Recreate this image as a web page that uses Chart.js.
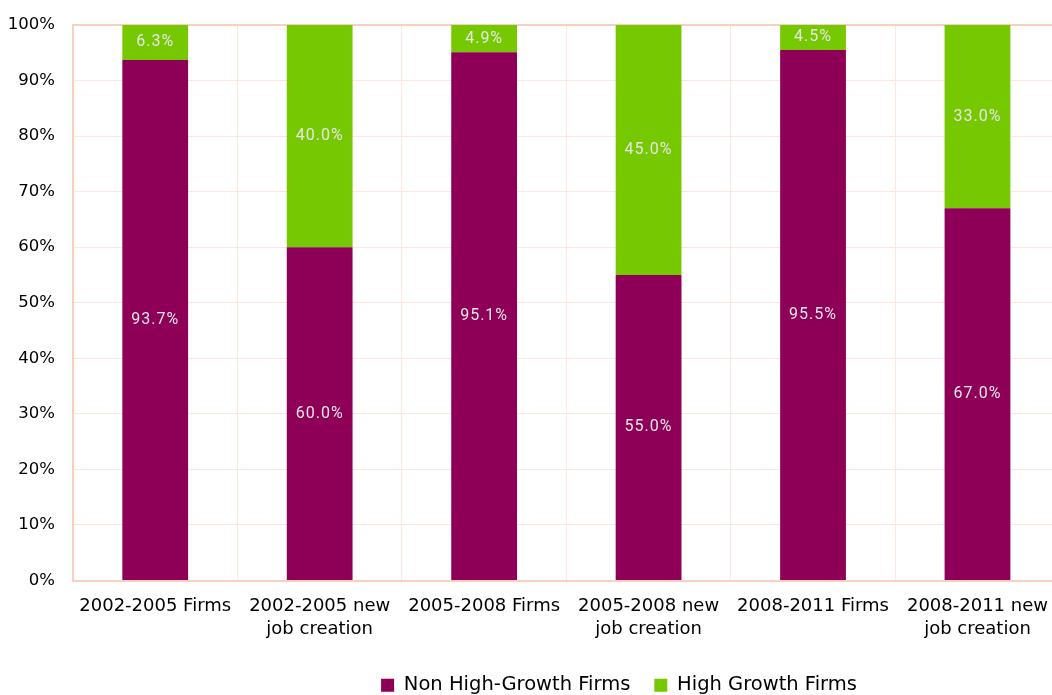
<!DOCTYPE html>
<html>
<head>
<meta charset="utf-8">
<script src="https://cdn.jsdelivr.net/npm/chart.js@4"></script>
<style>
  html, body { margin: 0; padding: 0; overflow: hidden; background: #fff; }
  #wrap { position: absolute; left: 0; top: 0; width: 1062px; height: 705px; }
</style>
</head>
<body>
<div id="wrap"><canvas id="myChart"></canvas></div>
<script>
// chart values
const categories = [
  "2002-2005 Firms",
  ["2002-2005 new", "job creation"],
  "2005-2008 Firms",
  ["2005-2008 new", "job creation"],
  "2008-2011 Firms",
  ["2008-2011 new", "job creation"],
];
const nonHighGrowth = [93.7, 60.0, 95.1, 55.0, 95.5, 67.0];
const highGrowth = [6.3, 40.0, 4.9, 45.0, 4.5, 33.0];
const yTicks = [0, 10, 20, 30, 40, 50, 60, 70, 80, 90, 100];

const font = "'DejaVu Sans', sans-serif";

// write the value in the middle of every bar piece
const barLabels = {
  id: "barLabels",
  afterDatasetsDraw(chart) {
    const ctx = chart.ctx;
    ctx.save();
    ctx.font = "16px Roboto, sans-serif";
    ctx.letterSpacing = "1px";
    ctx.fillStyle = "#e6e6e6";
    ctx.textAlign = "center";
    ctx.textBaseline = "middle";
    chart.data.datasets.forEach((ds, i) => {
      chart.getDatasetMeta(i).data.forEach((bar, j) => {
        const mid = (bar.y + bar.base) / 2;
        ctx.fillText(ds.data[j].toFixed(1) + "%", bar.x, mid);
      });
    });
    ctx.restore();
  },
};

// the legend sits right of centre in the original
const legendShift = {
  id: "legendShift",
  afterLayout(chart) {
    chart.legend.left += 88;
    chart.legend.right += 88;
  },
};

const data = {
  labels: categories,
  datasets: [
    {
      label: "Non High-Growth Firms",
      data: nonHighGrowth,
      backgroundColor: "#8e0057",
      barPercentage: 0.4,
      categoryPercentage: 1,
    },
    {
      label: "High Growth Firms",
      data: highGrowth,
      backgroundColor: "#76c800",
      barPercentage: 0.4,
      categoryPercentage: 1,
    },
  ],
};

const config = {
  type: "bar",
  data: data,
  options: {
    responsive: true,
    maintainAspectRatio: false,
    animation: false,
    layout: { padding: { top: 25, right: 0, left: 0, bottom: 0 } },
    scales: {
      x: {
        stacked: true,
        grid: { color: "#fde6de", lineWidth: 1, drawTicks: false, offset: true },
        border: { color: "#f9cfc0", width: 2 },
        ticks: {
          color: "#000",
          font: { family: font, size: 18, lineHeight: 1.3 },
          padding: 14,
          maxRotation: 0,
        },
        afterFit(scale) {
          scale.height = 71;
        },
      },
      y: {
        stacked: true,
        min: 0,
        max: 100,
        afterBuildTicks(scale) {
          scale.ticks = yTicks.map((v) => ({ value: v }));
        },
        grid: {
          color: (c) => (c.tick && c.tick.value === 100 ? "#f9cfc0" : "#fde6de"),
          lineWidth: (c) => (c.tick && c.tick.value === 100 ? 2 : 1),
          drawTicks: false,
        },
        border: { color: "#f9cfc0", width: 2 },
        ticks: {
          color: "#000",
          font: { family: font, size: 16.5 },
          padding: 18,
          callback: (v) => v + "%",
        },
        afterFit(scale) {
          scale.width = 73;
          scale.paddingTop = 0;
          scale.paddingBottom = 0;
        },
      },
    },
    plugins: {
      tooltip: { enabled: false },
      legend: {
        position: "bottom",
        labels: {
          color: "#000",
          font: { family: font, size: 19.5 },
          boxWidth: 13,
          boxHeight: 13,
          padding: 24,
          useBorderRadius: false,
        },
      },
    },
  },
  plugins: [barLabels, legendShift],
};

const myChart = new Chart(document.getElementById("myChart"), config);
</script>
</body>
</html>
